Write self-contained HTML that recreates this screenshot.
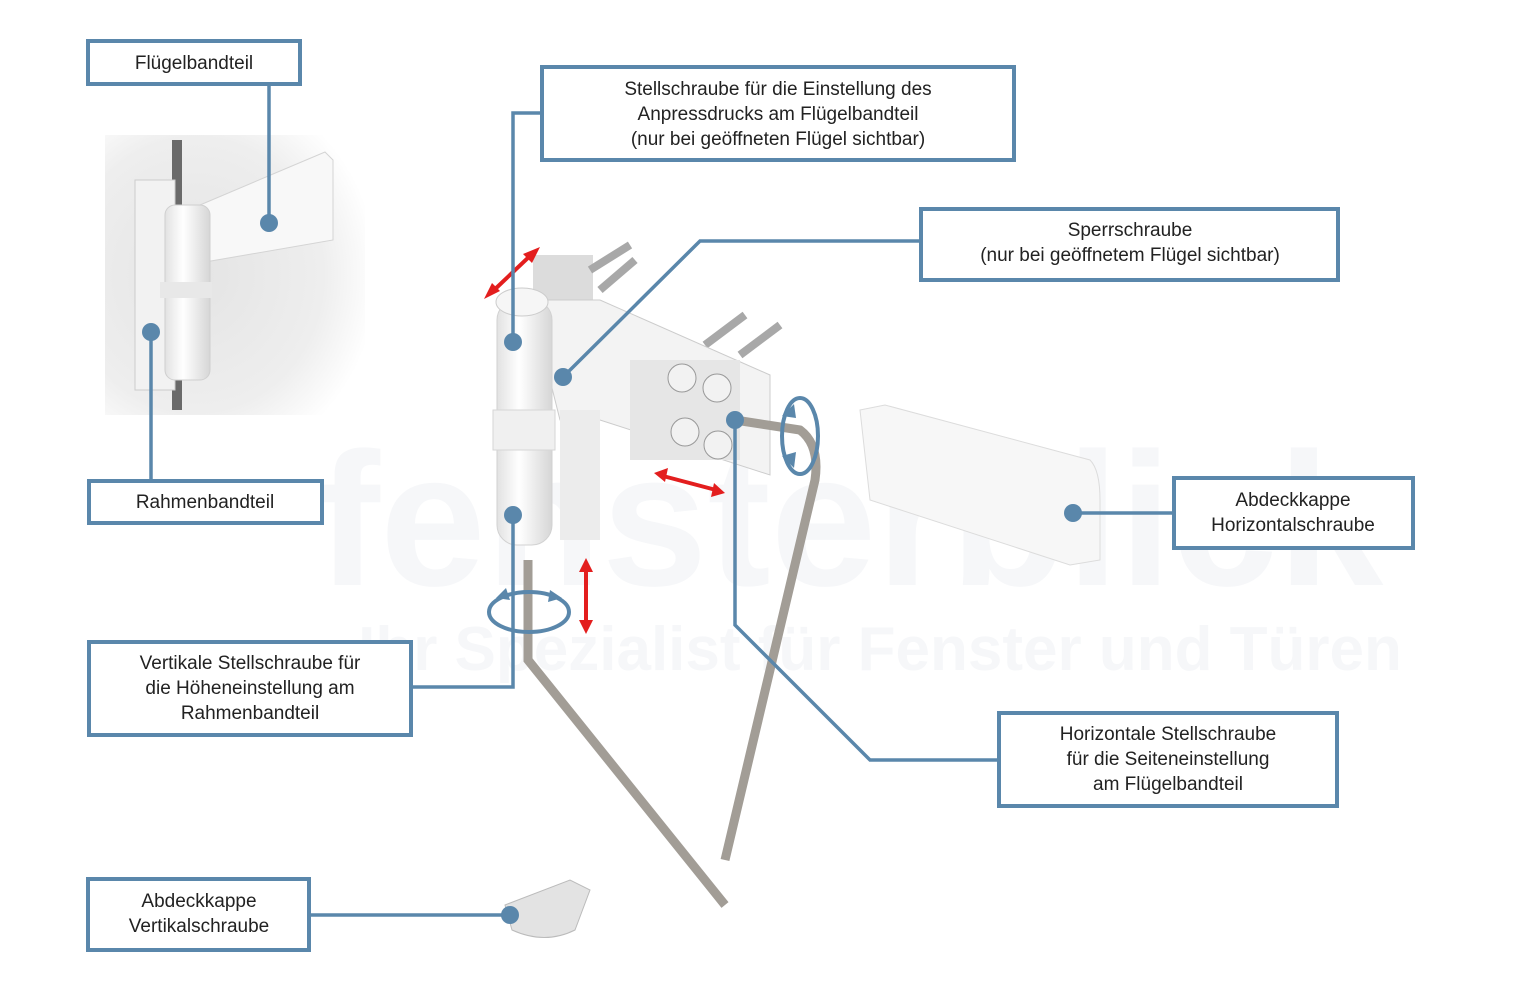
<!DOCTYPE html>
<html><head><meta charset="utf-8"><style>
html,body{margin:0;padding:0;background:#fff;}
svg{display:block}
text{font-family:"Liberation Sans",sans-serif;font-size:19px;fill:#222;text-anchor:middle}
</style></head><body>
<svg width="1520" height="1000" viewBox="0 0 1520 1000" xmlns="http://www.w3.org/2000/svg">
<defs>
<linearGradient id="cy" x1="0" x2="1"><stop offset="0" stop-color="#e2e2e2"/><stop offset="0.4" stop-color="#fff"/><stop offset="1" stop-color="#d6d6d6"/></linearGradient>
<radialGradient id="bg" cx="0.35" cy="0.5" r="0.7"><stop offset="0" stop-color="#e4e4e4"/><stop offset="0.7" stop-color="#eeeeee"/><stop offset="1" stop-color="#fff"/></radialGradient>
</defs>
<!-- watermark -->
<text x="850" y="585" style="font-size:190px;font-weight:bold;fill:#f6f7f9">fensterblick</text>
<text x="880" y="670" style="font-size:62px;font-weight:bold;fill:#f6f7f9">Ihr Spezialist für Fenster und Türen</text>
<!-- left photo -->
<rect x="105" y="135" width="260" height="280" fill="url(#bg)"/>
<rect x="172" y="140" width="10" height="270" fill="#6a6a6a"/>
<rect x="135" y="180" width="40" height="210" fill="#f2f2f2" stroke="#ccc"/>
<path d="M200 205 L325 152 L333 160 L333 240 L205 262 Z" fill="#f8f8f8" stroke="#d4d4d4"/>
<rect x="165" y="205" width="45" height="175" rx="10" fill="url(#cy)" stroke="#cfcfcf"/>
<rect x="160" y="282" width="52" height="16" fill="#e8e8e8"/>
<!-- hinge main -->
<rect x="533" y="255" width="60" height="45" fill="#dcdcdc"/>
<g stroke="#a8a8a8" stroke-width="8"><line x1="590" y1="270" x2="630" y2="245"/><line x1="600" y1="290" x2="635" y2="260"/><line x1="705" y1="345" x2="745" y2="315"/><line x1="740" y1="355" x2="780" y2="325"/></g>
<path d="M530 300 L600 300 L770 375 L770 475 L600 420 L560 420 Z" fill="#f3f3f3" stroke="#ccc"/>
<rect x="630" y="360" width="110" height="100" fill="#e6e6e6"/>
<g fill="#f2f2f2" stroke="#999"><circle cx="682" cy="378" r="14"/><circle cx="717" cy="388" r="14"/><circle cx="685" cy="432" r="14"/><circle cx="718" cy="445" r="14"/></g>
<rect x="560" y="410" width="40" height="130" fill="#ececec"/>
<rect x="497" y="300" width="55" height="245" rx="20" fill="url(#cy)" stroke="#d2d2d2"/>
<rect x="493" y="410" width="62" height="40" fill="#f0f0f0" stroke="#d6d6d6"/>
<ellipse cx="522" cy="302" rx="26" ry="14" fill="#f6f6f6" stroke="#ccc"/>
<!-- hex keys -->
<path d="M735 420 L800 430 Q820 445 815 480 L725 860" fill="none" stroke="#a29d96" stroke-width="9" stroke-linejoin="round"/>
<path d="M528 560 L528 660 L725 905" fill="none" stroke="#a29d96" stroke-width="9"/>
<!-- cover cap right -->
<path d="M860 410 L885 405 L1090 460 Q1100 470 1100 500 L1100 560 L1070 565 L870 500 Z" fill="#f7f7f7" stroke="#dcdcdc"/>
<!-- cap bottom -->
<path d="M505 905 L570 880 L590 890 L575 930 Q545 945 512 930 Z" fill="#e3e3e3" stroke="#bbb"/>
<!-- red arrows -->
<g stroke="#e31e1e" stroke-width="4" fill="#e31e1e">
<line x1="492" y1="292" x2="532" y2="254"/><path d="M484 299 L492 283 L500 291 Z" stroke="none"/><path d="M540 247 L523 254 L532 263 Z" stroke="none"/>
<line x1="663" y1="476" x2="716" y2="490"/><path d="M654 473 L668 468 L665 482 Z" stroke="none"/><path d="M725 493 L711 497 L714 483 Z" stroke="none"/>
<line x1="586" y1="568" x2="586" y2="624"/><path d="M586 558 L579 572 L593 572 Z" stroke="none"/><path d="M586 634 L579 620 L593 620 Z" stroke="none"/>
</g>
<!-- blue rotation marks -->
<g stroke="#5a87ab" stroke-width="4" fill="none">
<ellipse cx="529" cy="612" rx="40" ry="20"/>
<ellipse cx="800" cy="436" rx="18" ry="38"/>
</g>
<g fill="#5a87ab">
<path d="M496 598 L506 588 L510 600 Z"/><path d="M550 590 L562 598 L548 602 Z"/>
<path d="M782 416 L794 404 L796 418 Z"/><path d="M782 456 L796 452 L794 468 Z"/>
</g>
<!-- connectors -->
<g stroke="#5a87ab" stroke-width="3.5" fill="none">
<polyline points="269,84 269,223"/>
<polyline points="151,480 151,332"/>
<polyline points="541,113 513,113 513,342"/>
<polyline points="920,241 700,241 563,377"/>
<polyline points="1173,513 1073,513"/>
<polyline points="411,687 513,687 513,515"/>
<polyline points="998,760 870,760 735,625 735,420"/>
<polyline points="309,915 510,915"/>
</g>
<g fill="#5a87ab">
<circle cx="269" cy="223" r="9"/><circle cx="151" cy="332" r="9"/><circle cx="513" cy="342" r="9"/><circle cx="563" cy="377" r="9"/>
<circle cx="1073" cy="513" r="9"/><circle cx="513" cy="515" r="9"/><circle cx="735" cy="420" r="9"/><circle cx="510" cy="915" r="9"/>
</g>
<!-- boxes -->
<g fill="#fff" stroke="#5a87ab" stroke-width="4">
<rect x="88" y="41" width="212" height="43"/>
<rect x="542" y="67" width="472" height="93"/>
<rect x="921" y="209" width="417" height="71"/>
<rect x="89" y="481" width="233" height="42"/>
<rect x="1174" y="478" width="239" height="70"/>
<rect x="89" y="642" width="322" height="93"/>
<rect x="999" y="713" width="338" height="93"/>
<rect x="88" y="879" width="221" height="71"/>
</g>
<text x="194" y="69">Flügelbandteil</text>
<text x="778" y="95">Stellschraube für die Einstellung des</text>
<text x="778" y="120">Anpressdrucks am Flügelbandteil</text>
<text x="778" y="145">(nur bei geöffneten Flügel sichtbar)</text>
<text x="1130" y="236">Sperrschraube</text>
<text x="1130" y="261">(nur bei geöffnetem Flügel sichtbar)</text>
<text x="205" y="508">Rahmenbandteil</text>
<text x="1293" y="506">Abdeckkappe</text>
<text x="1293" y="531">Horizontalschraube</text>
<text x="250" y="669">Vertikale Stellschraube für</text>
<text x="250" y="694">die Höheneinstellung am</text>
<text x="250" y="719">Rahmenbandteil</text>
<text x="1168" y="740">Horizontale Stellschraube</text>
<text x="1168" y="765">für die Seiteneinstellung</text>
<text x="1168" y="790">am Flügelbandteil</text>
<text x="199" y="907">Abdeckkappe</text>
<text x="199" y="932">Vertikalschraube</text>
</svg>
</body></html>
